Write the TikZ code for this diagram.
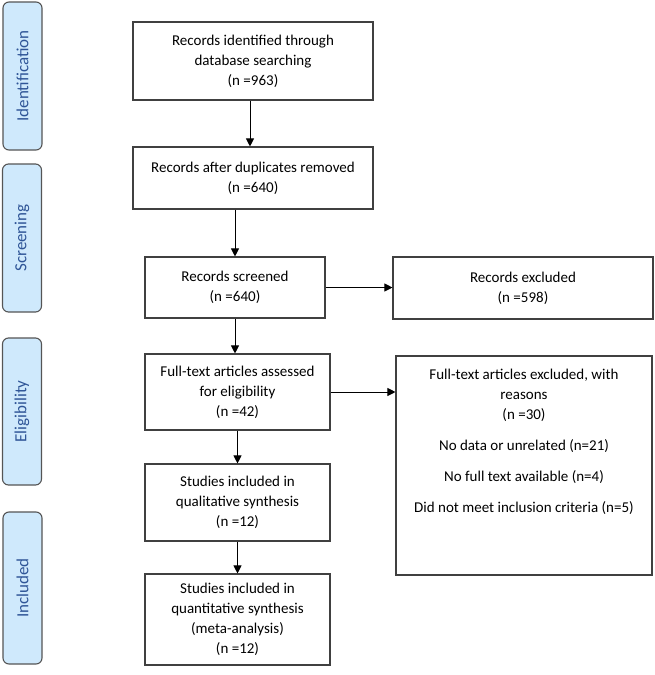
\documentclass[tikz,border=0pt]{standalone}
\usepackage{fontspec}
\setmainfont{Carlito}
\usetikzlibrary{arrows.meta}
\definecolor{sidefill}{HTML}{CFE9FC}
\definecolor{sidetext}{HTML}{2F5597}
\definecolor{sideline}{HTML}{555555}
\definecolor{boxline}{HTML}{404040}
\begin{document}
\begin{tikzpicture}[x=1pt,y=-1pt,
  every node/.style={font=\fontsize{15}{20}\selectfont},
  flowbox/.style={draw=boxline, line width=1.1pt, align=center, inner sep=0pt},
  sidebox/.style={draw=sideline, line width=1.1pt, fill=sidefill, rounded corners=6pt,
    minimum width=39pt},
  sidetxt/.style={rotate=90, text=sidetext, font=\fontsize{17}{20}\selectfont},
  flowarrow/.style={line width=0.9pt, -{Triangle[length=8pt,width=8pt]}}]
\useasboundingbox (0,0) rectangle (654,675);
% side labels
\node[sidebox, minimum height=148pt] (sid) at (22.5,76) {};
\node[sidetxt] at (sid.center) {Identification};
\node[sidebox, minimum height=148pt] (sscr) at (22,238) {};
\node[sidetxt] at (sscr.center) {Screening};
\node[sidebox, minimum height=147pt] (selig) at (22,411.5) {};
\node[sidetxt] at (selig.center) {Eligibility};
\node[sidebox, minimum height=152pt] (sinc) at (22.5,588) {};
\node[sidetxt] at (sinc.center) {Included};
% flow boxes
\node[flowbox, minimum width=240pt, minimum height=78pt] (b1) at (253,61)
  {Records identified through\\database searching\\(n =963)};
\node[flowbox, minimum width=240pt, minimum height=62pt] (b2) at (253,178)
  {Records after duplicates removed\\(n =640)};
\node[flowbox, minimum width=180pt, minimum height=61pt] (b3) at (235,287.5)
  {Records screened\\(n =640)};
\node[flowbox, minimum width=260pt, minimum height=62pt] (e1) at (523,288)
  {Records excluded\\(n =598)};
\node[flowbox, minimum width=185pt, minimum height=76pt] (b4) at (237.5,392)
  {Full-text articles assessed\\for eligibility\\(n =42)};
\node[flowbox, minimum width=256pt, minimum height=219pt] (e2) at (524,465.5) {};
\node[anchor=north, align=center, inner sep=0pt] (e2t) at ([yshift=-13pt]e2.north)
  {Full-text articles excluded, with\\reasons\\(n =30)\\[11pt]No data or unrelated (n=21)\\[11pt]No full text available (n=4)\\[11pt]Did not meet inclusion criteria (n=5)};
\node[flowbox, minimum width=185pt, minimum height=77pt] (b5) at (237.5,502.5)
  {Studies included in\\qualitative synthesis\\(n =12)};
\node[flowbox, minimum width=185pt, minimum height=91pt] (b6) at (237.5,619.5)
  {Studies included in\\quantitative synthesis\\(meta-analysis)\\(n =12)};
% connectors
\draw[flowarrow] ([xshift=-3pt]b1.south) -- ([xshift=-3pt]b1.south |- b2.north);
\draw[flowarrow] (b3.north |- b2.south) -- (b3.north);
\draw[flowarrow] (b3.south) -- (b3.south |- b4.north);
\draw[flowarrow] (b3.east) -- (b3.east -| e1.west);
\draw[flowarrow] (b4.east) -- (b4.east -| e2.west);
\draw[flowarrow] (b4.south) -- (b5.north);
\draw[flowarrow] (b5.south) -- (b6.north);
\end{tikzpicture}
\end{document}
